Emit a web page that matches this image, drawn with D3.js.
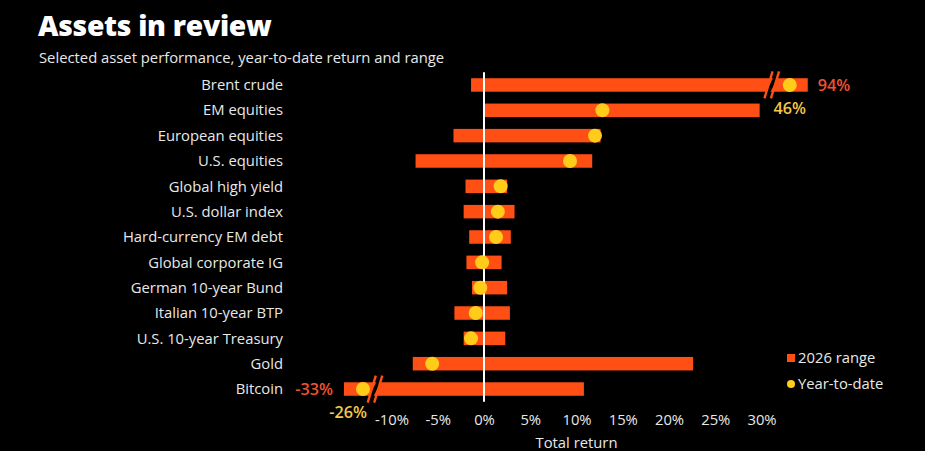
<!DOCTYPE html>
<html>
<head>
<meta charset="utf-8">
<script src="https://cdn.jsdelivr.net/npm/d3@7"></script>
<style>
html,body{margin:0;padding:0;background:#000;}
svg{display:block;}
text{font-family:"Open Sans","DejaVu Sans",sans-serif;}
</style>
</head>
<body>
<svg id="chart" width="925" height="451"></svg>
<script>
// ---- data ----
const categories = ["Brent crude","EM equities","European equities","U.S. equities","Global high yield","U.S. dollar index","Hard-currency EM debt","Global corporate IG","German 10-year Bund","Italian 10-year BTP","U.S. 10-year Treasury","Gold","Bitcoin"];
const rangeMin = [-1.4, 0.0, -3.3, -7.4, -2.0, -2.2, -1.6, -1.9, -1.3, -3.2, -2.2, -7.7, -33];
const rangeMax = [94, 29.8, 12.6, 11.7, 2.5, 3.3, 2.9, 1.9, 2.5, 2.8, 2.3, 22.6, 10.8];
const ytd      = [46, 12.8, 12.0, 9.3, 1.8, 1.5, 1.3, -0.2, -0.4, -0.9, -1.4, -5.6, -26];
const tickValues = [-10, -5, 0, 5, 10, 15, 20, 25, 30];
const axisBreaks = [-12, 31];   // values where the axis is broken
const title = "Assets in review";
const subtitle = "Selected asset performance, year-to-date return and range";
const xTitle = "Total return";
const legendLabels = ["2026 range", "Year-to-date"];

const COL_BAR = "#ff4f14", COL_DOT = "#ffcc1a", COL_TXT = "#e8e8e8";
const COL_RED_LBL = "#ef5230", COL_YEL_LBL = "#f4c84a";
const FS = 14.8;

const svg = d3.select("#chart");
svg.append("rect").attr("width",925).attr("height",451).attr("fill","#000");

// base linear scale
const x0 = d3.scaleLinear().domain([0, 10]).range([484, 576.5]);
// piecewise scale with compressed regions outside the breaks
const lo = axisBreaks[0], hi = axisBreaks[1];
const x = d3.scaleLinear()
  .domain([-33, -26, lo, hi, 46, 94])
  .range([x0(lo) - 29, x0(lo) - 10, x0(lo), x0(hi), x0(hi) + 19, x0(hi) + 37]);

const y = d3.scaleBand().domain(categories).range([72.3, 401.7]);
const barH = 13.5;

const rows = categories.map((c, i) => ({c, min: rangeMin[i], max: rangeMax[i], ytd: ytd[i]}));
const fmt = v => (v < 0 ? "-" + Math.abs(v) : v) + "%";

// title
svg.append("text").attr("x", 38).attr("y", 36).attr("fill", "#fff")
  .attr("font-size", 28.3).attr("font-weight", 800).style("letter-spacing","-0.3px").text(title);
svg.append("text").attr("x", 39).attr("y", 63).attr("fill", COL_TXT)
  .attr("font-size", 14.8).text(subtitle);

// category labels
svg.append("g").selectAll("text").data(rows).join("text")
  .attr("x", 283).attr("y", d => y(d.c) + y.bandwidth()/2)
  .attr("dy", "0.35em").attr("text-anchor", "end").attr("fill", COL_TXT)
  .attr("font-size", FS).text(d => d.c);

// bars
svg.append("g").selectAll("rect").data(rows).join("rect")
  .attr("x", d => x(d.min)).attr("width", d => x(d.max) - x(d.min))
  .attr("y", d => y(d.c) + (y.bandwidth() - barH)/2).attr("height", barH)
  .attr("fill", COL_BAR);

// zero line
svg.append("line").attr("x1", x(0)).attr("x2", x(0))
  .attr("y1", y.range()[0]).attr("y2", y.range()[1])
  .attr("stroke", "#fff").attr("stroke-width", 2);

// break marks
const brk = svg.append("g");
rows.filter(d => d.max > hi || d.min < lo).forEach(d => {
  const bx = d.max > hi ? x0(hi) + 1 : x0(lo) + 2;
  const cy = y(d.c) + y.bandwidth()/2;
  const h = 13.5, s = 0.3;
  const gap = 4.5;
  brk.append("polygon")
    .attr("points", [[bx - gap/2 + h*s, cy - barH/2 - 1],[bx + gap/2 + h*s, cy - barH/2 - 1],[bx + gap/2 - h*s, cy + barH/2 + 1],[bx - gap/2 - h*s, cy + barH/2 + 1]].map(p => p.join(",")).join(" "))
    .attr("fill", "#000");
  [-gap/2 - 1, gap/2 + 1].forEach(o => {
    brk.append("line")
      .attr("x1", bx + o + h*s).attr("y1", cy - h)
      .attr("x2", bx + o - h*s).attr("y2", cy + h)
      .attr("stroke", COL_BAR).attr("stroke-width", 2.4);
  });
});

// dots
svg.append("g").selectAll("circle").data(rows).join("circle")
  .attr("cx", d => x(d.ytd)).attr("cy", d => y(d.c) + y.bandwidth()/2)
  .attr("r", 7).attr("fill", COL_DOT);

// out-of-range value labels
const VFS = 16.2;
rows.forEach(d => {
  const cy = y(d.c) + y.bandwidth()/2;
  if (d.max > hi) {
    svg.append("text").attr("x", x(d.max) + 10).attr("y", cy).attr("dy", "0.35em")
      .attr("fill", COL_RED_LBL).attr("font-size", VFS).attr("font-weight", 600).text(fmt(d.max));
    svg.append("text").attr("x", x(d.ytd)).attr("y", cy + 23).attr("dy", "0.35em").attr("text-anchor","middle")
      .attr("fill", COL_YEL_LBL).attr("font-size", VFS).attr("font-weight", 600).text(fmt(d.ytd));
  }
  if (d.min < lo) {
    svg.append("text").attr("x", x(d.min) - 11).attr("y", cy).attr("dy", "0.35em").attr("text-anchor","end")
      .attr("fill", COL_RED_LBL).attr("font-size", VFS).attr("font-weight", 600).text(fmt(d.min));
    svg.append("text").attr("x", x(d.ytd) + 4).attr("y", cy + 23).attr("dy", "0.35em").attr("text-anchor","end")
      .attr("fill", COL_YEL_LBL).attr("font-size", VFS).attr("font-weight", 600).text(fmt(d.ytd));
  }
});

// x axis
const axis = d3.axisBottom(x).tickValues(tickValues).tickSize(0).tickPadding(0).tickFormat(fmt);
const gx = svg.append("g").attr("transform", "translate(0,414)").call(axis);
gx.select(".domain").remove();
gx.selectAll("text").attr("fill", COL_TXT).attr("font-size", FS)
  .attr("font-family", '"Open Sans","DejaVu Sans",sans-serif');
svg.append("text").attr("x", x(10)).attr("y", 443).attr("dy", "0.35em").attr("text-anchor", "middle")
  .attr("fill", COL_TXT).attr("font-size", FS).text(xTitle);

// legend
const lg = svg.append("g");
lg.append("rect").attr("x", 787).attr("y", 354).attr("width", 8).attr("height", 8).attr("fill", COL_BAR);
lg.append("text").attr("x", 798).attr("y", 358).attr("dy", "0.35em").attr("fill", COL_TXT).attr("font-size", FS).text(legendLabels[0]);
lg.append("circle").attr("cx", 791).attr("cy", 384).attr("r", 4).attr("fill", COL_DOT);
lg.append("text").attr("x", 798).attr("y", 384).attr("dy", "0.35em").attr("fill", COL_TXT).attr("font-size", FS).text(legendLabels[1]);
</script>
</body>
</html>
